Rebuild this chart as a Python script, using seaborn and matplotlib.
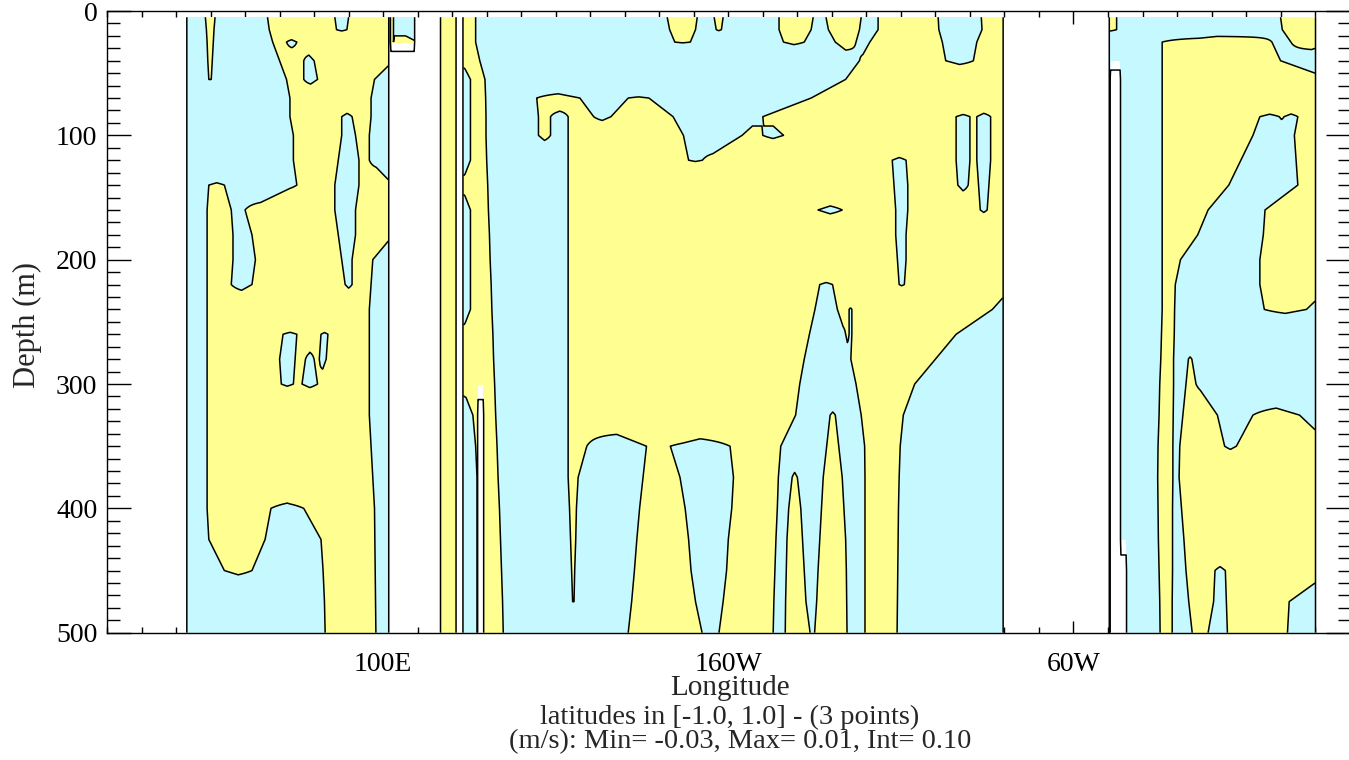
#!/usr/bin/env python3
"""
赤道纬向流速剖面 (depth-longitude section, sign of u)
"""

import numpy as np
import matplotlib
matplotlib.use('Agg')
import matplotlib.pyplot as plt
from matplotlib.ticker import FixedLocator, MultipleLocator
import seaborn as sns

sns.set_style('ticks')
plt.rcParams['font.family'] = ['Liberation Serif', 'DejaVu Serif']

# depth levels (m) of the section rows
depth_levels = [5, 15, 25, 40, 55, 70, 85, 100, 120, 140, 160, 180, 200,
                220, 240, 260, 280, 300, 325, 350, 375, 400, 425, 450, 475, 500]

# longitude spans (deg E) where the field is positive, one list per depth level
yellow_indian = [
    [(48.5, 51.3), (66.5, 86), (90, 103)],
    [(48.8, 51), (67, 86.5), (89.5, 103)],
    [(49, 50.8), (68, 72), (75, 103)],
    [(49.2, 50.5), (70, 77), (80, 103)],
    [(49.5, 50.2), (72, 77), (81, 97.5)],
    [(73, 96.5)],
    [(73, 88), (91, 96.5)],
    [(74, 88), (92, 96)],
    [(74, 87), (93, 96)],
    [(49.5, 54), (75, 86), (93, 103)],
    [(49, 56), (60, 86), (92, 103)],
    [(49, 56.5), (62, 87), (92, 103)],
    [(49, 56.5), (63, 88), (91, 97)],
    [(49, 56), (62, 89), (91, 96.5)],
    [(49, 96)],
    [(49, 71), (75, 82), (84, 96)],
    [(49, 70), (74.5, 77.5), (80, 81.5), (83.5, 96)],
    [(49, 70.5), (74, 76.5), (81, 96)],
    [(49, 96)],
    [(49, 96.5)],
    [(49, 97)],
    [(49, 67.5), (77, 97.5)],
    [(49.5, 65.8), (82, 97.6)],
    [(54, 62), (82.6, 97.7)],
    [(83, 97.8)],
    [(83.2, 97.9)],
]

yellow_indo = [
    [(115, 122), (122.5, 126.8)],
    [(115, 122), (122.5, 126.8)],
    [(101, 110), (115, 122), (122.5, 126.8)],
    [(115, 122), (122.5, 128.0)],
    [(115, 122), (125.3, 129.5)],
    [(115, 122), (125.3, 129.7)],
    [(115, 122), (125.3, 129.8)],
    [(115, 122), (125.3, 129.8)],
    [(115, 122), (125.3, 130.0)],
    [(115, 122), (122.5, 130.3)],
    [(115, 122), (125.3, 130.5)],
    [(115, 122), (125.3, 130.8)],
    [(115, 122), (125.3, 131.0)],
    [(115, 122), (125.3, 131.3)],
    [(115, 122), (125.3, 131.5)],
    [(115, 122), (122.5, 131.8)],
    [(115, 122), (122.5, 132.0)],
    [(115, 122), (122.5, 132.3)],
    [(115, 122), (126.0, 132.6)],
    [(115, 122), (126.8, 133.0)],
    [(115, 122), (127.2, 133.3)],
    [(115, 122), (127.2, 133.7)],
    [(115, 122), (127.2, 134.0)],
    [(115, 122), (127.2, 134.3)],
    [(115, 122), (127.2, 134.6)],
    [(115, 122), (127.2, 134.8)],
]

yellow_pacific = [
    [(182.3, 191.0), (195.9, 198.5), (214.7, 224.6), (228.3, 238.5), (243.4, 260.8), (273.3, 283)],
    [(183, 190.5), (196.5, 198), (214.7, 224), (229, 238), (243.4, 261), (273.5, 283)],
    [(184.5, 189), (216, 222), (231, 237), (241, 262), (272, 283)],
    [(238, 263), (271, 283)],
    [(234, 283)],
    [(144.5, 157), (171, 177), (224, 283)],
    [(145, 148.5), (153.6, 161), (166, 184), (210, 266), (270, 272), (276, 283)],
    [(145, 148.5), (153.6, 187), (204, 210), (216, 266), (270, 272), (276, 283)],
    [(153.6, 188.5), (192.5, 247.5), (251.5, 266), (270, 272), (276, 283)],
    [(153.6, 248), (252, 266.5), (269.5, 272.5), (275.5, 283)],
    [(153.6, 226), (233, 248.5), (252, 273), (275, 283)],
    [(153.6, 248.5), (251.5, 283)],
    [(153.6, 249), (251.5, 283)],
    [(153.6, 226.5), (230.2, 249.5), (251, 283)],
    [(153.6, 225.1), (231.6, 235), (235.8, 276.5)],
    [(153.6, 223.5), (234, 235), (235.8, 266)],
    [(153.6, 222), (235.5, 260)],
    [(153.6, 220.7), (237, 254)],
    [(153.6, 219.5), (229.5, 231), (238.5, 250.7)],
    [(153.6, 159), (176.3, 183.2), (200.5, 215.2), (228.5, 232), (239.5, 249.8)],
    [(153.6, 156.5), (175.3, 186), (201.5, 214.5), (218.5, 220), (227.5, 233), (239.6, 249.5)],
    [(154, 156), (174.3, 187.5), (201, 214.2), (217.5, 221), (227, 233.5), (239.6, 249.3)],
    [(154.3, 155.8), (173.5, 188.5), (200, 213.8), (217, 221.5), (226.5, 234), (239.6, 249.2)],
    [(154.6, 155.5), (172.8, 189.2), (199.5, 213.5), (216.8, 222), (226, 234.2), (239.6, 249.1)],
    [(154.9, 155.3), (172, 190.5), (198.5, 213.2), (216.6, 222.5), (225.6, 234.3), (239.6, 249)],
    [(171, 192.4), (197.3, 213), (216.5, 223.7), (225, 234.4), (239.6, 248.9)],
]

yellow_atlantic = [
    [(309, 312.5), (360, 375)],
    [(309, 312.5), (360.5, 375)],
    [(325.7, 357.5), (363, 375)],
    [(325.7, 360)],
    [(325.7, 375)],
    [(325.7, 375)],
    [(325.7, 354), (359.6, 361), (365, 375)],
    [(325.7, 352), (364, 375)],
    [(325.7, 348.5), (364.5, 375)],
    [(325.7, 345), (365, 375)],
    [(325.7, 339), (355.5, 375)],
    [(325.7, 336), (355, 375)],
    [(325.7, 331), (354, 375)],
    [(325.7, 329.5), (354, 375)],
    [(325.7, 329.3), (355.3, 367.5)],
    [(325.5, 329.2)],
    [(325.3, 329), (333.3, 334.3)],
    [(325, 329), (332.6, 335.5)],
    [(324.8, 328.9), (331.7, 341.7), (352, 365.5)],
    [(324.5, 328.8), (330.8, 343.8), (347.2, 375)],
    [(324.4, 328.8), (330.6, 375)],
    [(324.5, 328.7), (331.3, 375)],
    [(324.6, 328.7), (332, 375)],
    [(324.8, 328.7), (332.6, 341), (344, 375)],
    [(325, 328.6), (333.4, 340.6), (344.3, 362.5)],
    [(325.1, 328.6), (334.4, 339), (344.6, 362)],
]

# land (lon0, lon1, depth0, depth1)
ocean_west, ocean_east = 43.2, 370.0
land_spans = [
    (101.6, 102.2, 0, 500), (102.2, 109.2, 40, 500), (109.2, 116.6, 0, 500),
    (121.2, 123.1, 0, 500), (127.3, 129.1, 310, 500),
    (279.7, 310.5, 0, 500), (310.5, 313.7, 50, 500), (313.7, 315.5, 430, 500),
]

lon_ticks = [100, 200, 300]
lon_labels = ['100E', '160W', '60W']
cyan = '#C5F8FF'
yellow = '#FFFF91'


def signed_dist(spans, x):
    """正值在黄色区间内, 负值在外 (到最近边界的经度距离)"""
    inside = np.zeros(x.shape, bool)
    dist = np.full(x.shape, 60.0)
    for a, b in spans:
        inside |= (x >= a) & (x <= b)
        dist = np.minimum(dist, np.minimum(np.abs(x - a), np.abs(x - b)))
    return np.where(inside, dist, -dist)


# build the gridded field
lon = np.arange(42.0, 371.01, 0.25)
depth = np.array(depth_levels, dtype=float)
field = np.zeros((len(depth), len(lon)))
for i in range(len(depth)):
    spans = yellow_indian[i] + yellow_indo[i] + yellow_pacific[i] + yellow_atlantic[i]
    field[i] = signed_dist(spans, lon)

LON, DEP = np.meshgrid(lon, depth)
land = (LON < ocean_west) | (LON > ocean_east)
for a, b, d0, d1 in land_spans:
    land |= (LON > a) & (LON < b) & (DEP >= d0) & (DEP <= d1)
data = np.ma.masked_array(field, land)

fig = plt.figure(figsize=(13.49, 7.60), dpi=100)
ax = fig.add_axes([107 / 1349, (760 - 632.7) / 760, 1242.6 / 1349, 621.7 / 760])

ax.contourf(lon, depth, data, levels=[-100, 0, 100], colors=[cyan, yellow])
ax.contour(lon, depth, data, levels=[0], colors='k', linewidths=1.1)
ax.contour(lon, depth, land.astype(float), levels=[0.5], colors='k', linewidths=1.1)

ax.set_xlim(20, 380)
ax.set_ylim(500, 0)
ax.xaxis.set_major_locator(FixedLocator(lon_ticks))
ax.set_xticklabels(lon_labels)
ax.xaxis.set_minor_locator(MultipleLocator(10))
ax.yaxis.set_major_locator(MultipleLocator(100))
ax.yaxis.set_minor_locator(MultipleLocator(10))
ax.tick_params(which='both', direction='in', top=True, right=True,
               color='k', width=1.0, labelsize=20, labelcolor='k')
ax.tick_params(axis='x', which='major', length=9, pad=14)
ax.tick_params(axis='x', which='minor', length=4.5)
ax.tick_params(axis='y', which='major', length=17, pad=7)
ax.tick_params(axis='y', which='minor', length=9)
for sp in ax.spines.values():
    sp.set_color('k')
    sp.set_linewidth(1.0)

fig.text(27 / 1349, 1 - 325 / 760, 'Depth (m)', rotation=90,
         ha='center', va='center', fontsize=22)
fig.text(730 / 1349, 1 - 688 / 760, 'Longitude', ha='center', va='center', fontsize=21)
fig.text(730 / 1349, 1 - 717 / 760, 'latitudes in [-1.0, 1.0] - (3 points)',
         ha='center', va='center', fontsize=20.5)
fig.text(740 / 1349, 1 - 742 / 760, '(m/s): Min= -0.03, Max= 0.01, Int= 0.10',
         ha='center', va='center', fontsize=20.5)

fig.savefig('out.png', dpi=100)
